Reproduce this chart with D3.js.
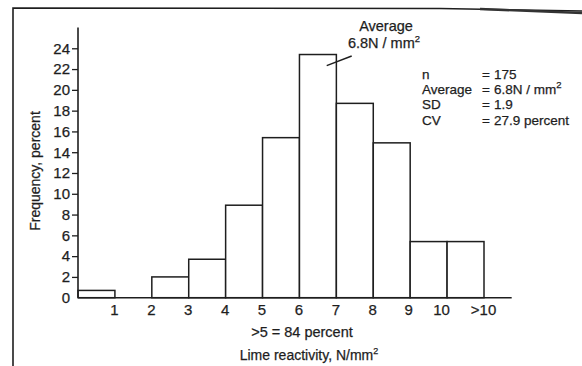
<!DOCTYPE html>
<html>
<head>
<meta charset="utf-8">
<script src="https://cdn.jsdelivr.net/npm/d3@7"></script>
<style>
  html, body { margin: 0; padding: 0; background: #fff; }
  svg { display: block; font-family: "Liberation Sans", Arial, Helvetica, sans-serif; }
  text { fill: #1e1e1e; stroke: #1e1e1e; stroke-width: 0.25px; }
</style>
</head>
<body>
<svg id="chart" width="582" height="366"></svg>
<script>
// ---- data ----
const binStarts = [0, 1, 2, 3, 4, 5, 6, 7, 8, 9, 10];
const frequency = [0.7, 0, 2.0, 3.7, 8.9, 15.4, 23.4, 18.7, 14.9, 5.4, 5.4];
const xTickValues = [1, 2, 3, 4, 5, 6, 7, 8, 9, 10, 11];
const xTickLabels = ["1", "2", "3", "4", "5", "6", "7", "8", "9", "10", ">10"];
const yTickValues = [0, 2, 4, 6, 8, 10, 12, 14, 16, 18, 20, 22, 24];
const statLabels = ["n", "Average", "SD", "CV"];
const statValues = ["175", "6.8N / mm", "1.9", "27.9 percent"];

const svg = d3.select("#chart");
const ink = "#1e1e1e";

const x = d3.scaleLinear().domain([0, 11]).range([78, 484]);
const y = d3.scaleLinear().domain([0, 26]).range([297.7, 27.5]);

// frame (scanned page border)
svg.append("path")
  .attr("d", "M13,366 L13,8 L440,8.5 L582,11")
  .attr("fill", "none").attr("stroke", ink).attr("stroke-width", 1.6);
svg.append("path")
  .attr("d", "M480,9 L582,13")
  .attr("fill", "none").attr("stroke", "#333").attr("stroke-width", 2.4);

// bars
svg.append("g").selectAll("rect")
  .data(binStarts)
  .join("rect")
  .attr("x", d => x(d))
  .attr("width", d => x(d + 1) - x(d))
  .attr("y", (d, i) => y(frequency[i]))
  .attr("height", (d, i) => y(0) - y(frequency[i]))
  .attr("fill", "#fff")
  .attr("stroke", ink)
  .attr("stroke-width", 1.5);

// y axis
const yAxis = svg.append("g")
  .attr("transform", `translate(${x(0)},0)`)
  .call(d3.axisLeft(y).tickValues(yTickValues).tickSize(6).tickPadding(2).tickFormat(d3.format("d")));
yAxis.select(".domain").attr("d", `M0,${y(0)}V${y(26)}`).attr("stroke", ink).attr("stroke-width", 1.6);
yAxis.selectAll(".tick line").attr("stroke", ink).attr("stroke-width", 1.3)
  .filter(d => d === 0).remove();
yAxis.selectAll(".tick text").attr("font-size", 15).attr("fill", ink)
  .attr("font-family", "Liberation Sans, Arial, sans-serif");

// x axis
const xAxis = svg.append("g")
  .attr("transform", `translate(0,${y(0)})`)
  .call(d3.axisBottom(x).tickValues(xTickValues).tickSize(0).tickPadding(7)
    .tickFormat((d, i) => xTickLabels[i]));
xAxis.select(".domain").attr("d", `M${x(0)},0H${x(11.75)}`).attr("stroke", ink).attr("stroke-width", 1.6);
xAxis.selectAll(".tick text").attr("font-size", 15).attr("fill", ink)
  .attr("dx", (d, i) => i === 9 ? -6 : (i === 8 ? -2 : -1))
  .attr("font-family", "Liberation Sans, Arial, sans-serif");

// axis titles
svg.append("text")
  .attr("transform", "translate(40,171) rotate(-90)")
  .attr("text-anchor", "middle").attr("font-size", 14)
  .text("Frequency, percent");

svg.append("text")
  .attr("x", 302).attr("y", 337)
  .attr("text-anchor", "middle").attr("font-size", 14.5)
  .text(">5 = 84 percent");

const xt = svg.append("text")
  .attr("x", 309).attr("y", 360)
  .attr("text-anchor", "middle").attr("font-size", 14);
xt.append("tspan").text("Lime reactivity, N/mm");
xt.append("tspan").attr("font-size", 9).attr("dy", -6).text("2");

// average annotation (one two-line text block)
const avg = svg.append("text").attr("font-size", 14.5).attr("text-anchor", "middle");
avg.append("tspan").attr("x", 386).attr("y", 31).text("Average");
avg.append("tspan").attr("x", 384).attr("y", 48).text("6.8N / mm");
avg.append("tspan").attr("font-size", 9.5).attr("dy", -6).attr("text-anchor", "start").text("2");
svg.append("line")
  .attr("x1", 326.7).attr("y1", 65.7).attr("x2", 351.7).attr("y2", 56)
  .attr("stroke", ink).attr("stroke-width", 1.4);

// stats block (one multi-line text block)
const stats = svg.append("text").attr("font-size", 13.5);
statLabels.forEach((lab, i) => {
  const yy = 79 + i * 15.2;
  stats.append("tspan").attr("x", 422).attr("y", yy).text(lab);
  stats.append("tspan").attr("x", 482).attr("y", yy).text("=");
  stats.append("tspan").attr("x", 494).attr("y", yy).text(statValues[i]);
  if (i === 1) stats.append("tspan").attr("font-size", 9.5).attr("dy", -6).text("2");
});
</script>
</body>
</html>
